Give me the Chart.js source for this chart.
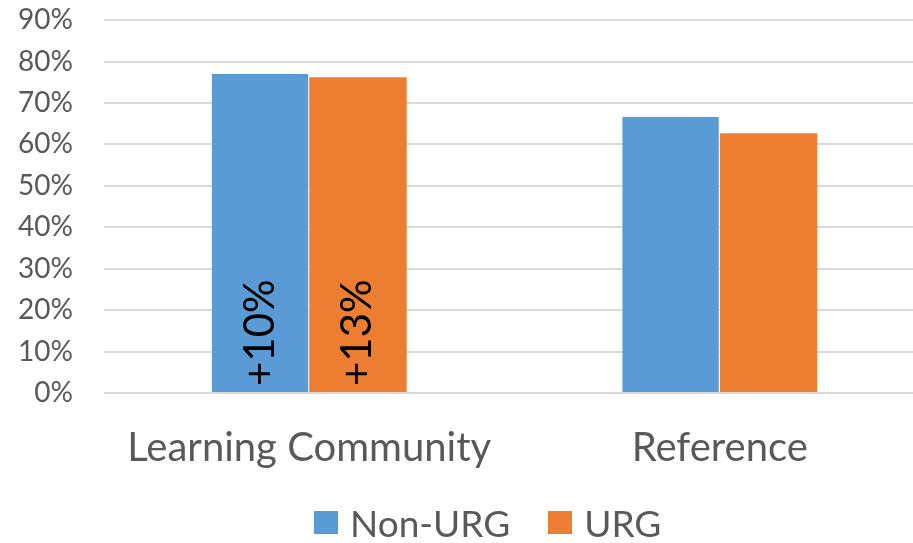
<!DOCTYPE html>
<html>
<head>
<meta charset="utf-8">
<script src="https://cdn.jsdelivr.net/npm/chart.js@4"></script>
<style>
    html, body { margin: 0; padding: 0; background: #fff; overflow: hidden; }
    #wrap { position: relative; width: 913px; height: 543px; overflow: hidden; }
    #chart-box { width: 925px; height: 503px; }
    #legend {
        position: absolute; left: 314px; top: 503px; height: 38px;
        display: flex; align-items: center;
        font-family: Lato, sans-serif; font-size: 37px; color: #595959;
    }
    #legend .item { display: flex; align-items: center; margin-right: 38px; }
    #legend .swatch { width: 24px; height: 23px; margin-right: 12px; }
</style>
</head>
<body>
<div id="wrap">
    <div id="chart-box"><canvas id="chart"></canvas></div>
    <div id="legend"></div>
</div>
<script>
// Chart data
const categories = ['Learning Community', 'Reference'];
const nonUrgValues = [77.0, 66.7];
const urgValues = [76.2, 62.7];
const yTicks = [0, 10, 20, 30, 40, 50, 60, 70, 80, 90];
// Rotated annotations inside the Learning Community bars
const nonUrgNotes = ['+10%', ''];
const urgNotes = ['+13%', ''];

/**
 * Draw rotated text inside the bars
 */
const barNotes = {
    id: 'barNotes',
    afterDatasetsDraw(chart) {
        const ctx = chart.ctx;
        const notes = [nonUrgNotes, urgNotes];
        notes.forEach((list, di) => {
            const meta = chart.getDatasetMeta(di);
            list.forEach((text, i) => {
                if (!text) return;
                const bar = meta.data[i];
                ctx.save();
                ctx.translate(bar.x, chart.scales.y.getPixelForValue(0) - 7);
                ctx.rotate(-Math.PI / 2);
                ctx.font = '42px Lato';
                ctx.fillStyle = '#000';
                ctx.textAlign = 'left';
                ctx.textBaseline = 'middle';
                ctx.fillText(text, 0, 0);
                ctx.restore();
            });
        });
    }
};

/**
 * Build an HTML legend from the chart datasets
 */
function renderLegend(chart) {
    const legend = document.getElementById('legend');
    legend.innerHTML = chart.data.datasets.map(ds =>
        `<div class="item"><span class="swatch" style="background:${ds.backgroundColor}"></span>${ds.label}</div>`
    ).join('');
}

const ctx = document.getElementById('chart').getContext('2d');
const chart = new Chart(ctx, {
    type: 'bar',
    data: {
        labels: categories,
        datasets: [
            {
                label: 'Non-URG',
                data: nonUrgValues,
                backgroundColor: '#5b9bd5',
                borderColor: '#ffffff',
                borderWidth: { left: 0, right: 1, top: 0, bottom: 0 },
                borderSkipped: false
            },
            {
                label: 'URG',
                data: urgValues,
                backgroundColor: '#ed7d31',
                borderWidth: 0
            }
        ]
    },
    options: {
        responsive: true,
        maintainAspectRatio: false,
        animation: false,
        layout: { padding: { top: 0, right: 0, left: 9, bottom: 8 } },
        datasets: {
            bar: { categoryPercentage: 0.475, barPercentage: 1.0 }
        },
        plugins: {
            legend: { display: false },
            tooltip: { enabled: false }
        },
        scales: {
            x: {
                grid: { display: false },
                border: { display: false },
                ticks: {
                    color: '#595959',
                    padding: 23,
                    font: { family: 'Lato', size: 40 }
                }
            },
            y: {
                min: 0,
                max: 90,
                afterBuildTicks(scale) {
                    scale.ticks = yTicks.map(v => ({ value: v }));
                },
                grid: { color: '#d9d9d9', lineWidth: 2, tickLength: 22, tickColor: '#fff' },
                border: { display: false },
                ticks: {
                    color: '#595959',
                    padding: 9,
                    autoSkip: false,
                    font: { family: 'Lato', size: 28, lineHeight: 0.8 },
                    callback: v => v + '%'
                }
            }
        }
    },
    plugins: [barNotes]
});

renderLegend(chart);
</script>
</body>
</html>
